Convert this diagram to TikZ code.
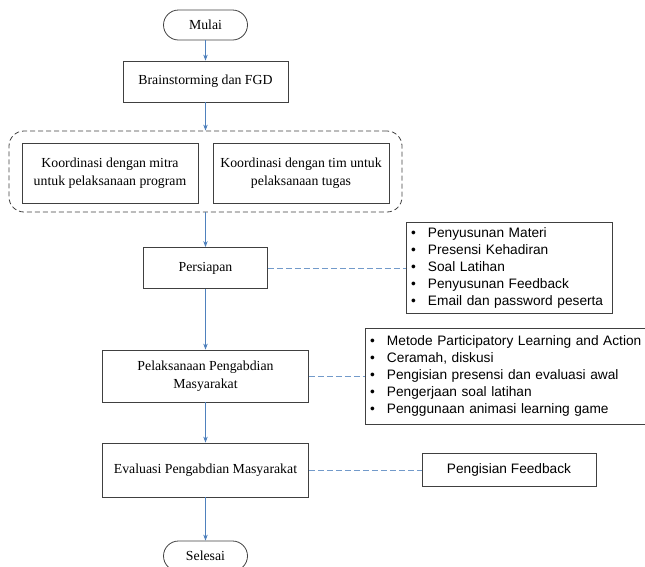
\documentclass[tikz,border=0pt]{standalone}
\usepackage{fontspec}
\setmainfont{Liberation Serif}
\setsansfont{Liberation Sans}
\usetikzlibrary{arrows.meta}
\definecolor{alurbiru}{RGB}{79, 129, 189}
\definecolor{garisabu}{RGB}{64, 64, 64}
\newcommand{\butir}[1]{\makebox[17pt][l]{\textbullet}#1}

\begin{document}
\begin{tikzpicture}[x=1pt, y=-1pt,
  kotak/.style={draw=garisabu, line width=0.8pt, align=center, inner sep=0pt,
    font=\fontsize{13.8}{18}\selectfont},
  ujung/.style={kotak, rounded corners=15pt, minimum width=84pt, minimum height=30pt},
  daftar/.style={draw=garisabu, line width=0.8pt, align=left, inner xsep=5pt, inner ysep=0pt,
    font=\sffamily\fontsize{13.7}{17}\selectfont},
  alur/.style={alurbiru, line width=0.8pt, -{Stealth[length=6pt, width=4.5pt]}},
  cabang/.style={alurbiru!80, line width=0.8pt, dash pattern=on 6pt off 3pt}]
  \useasboundingbox (0,0) rectangle (645,566);

  % Start and first step
  \node[ujung] (mulai) at (205.5,25) {Mulai};
  \node[kotak, minimum width=165pt, minimum height=41pt] (brainstorming) at (205.5,81.5)
    {Brainstorming dan FGD};

  % Coordination group
  \node[draw=garisabu, line width=0.8pt, dash pattern=on 5pt off 3pt, rounded corners=15pt,
    minimum width=393pt, minimum height=81pt] (koordinasi) at (205.5,171.5) {};
  \node[kotak, minimum width=176pt, minimum height=60pt] (mitra) at (110,173)
    {Koordinasi dengan mitra\\untuk pelaksanaan program};
  \node[kotak, minimum width=176pt, minimum height=60pt] (tim) at (301,173)
    {Koordinasi dengan tim untuk\\pelaksanaan tugas};

  % Preparation
  \node[kotak, minimum width=124pt, minimum height=41pt] (persiapan) at (205.5,268) {Persiapan};
  \node[daftar, text width=196pt, minimum height=91pt] (rincianpersiapan) at (509,268)
    {\butir{Penyusunan Materi}\\
     \butir{Presensi Kehadiran}\\
     \butir{Soal Latihan}\\
     \butir{Penyusunan Feedback}\\
     \butir{Email dan password peserta}};

  % Implementation
  \node[kotak, minimum width=206pt, minimum height=52pt] (pelaksanaan) at (205.5,376)
    {Pelaksanaan Pengabdian\\Masyarakat};
  \node[daftar, text width=300pt, minimum height=96pt] (rincianpelaksanaan) at (520,376)
    {\butir{Metode Participatory Learning and Action}\\
     \butir{Ceramah, diskusi}\\
     \butir{Pengisian presensi dan evaluasi awal}\\
     \butir{Pengerjaan soal latihan}\\
     \butir{Penggunaan animasi learning game}};

  % Evaluation and end
  \node[kotak, minimum width=206pt, minimum height=54pt] (evaluasi) at (205.5,470)
    {Evaluasi Pengabdian Masyarakat};
  \node[daftar, align=center, inner xsep=0pt, minimum width=174pt, minimum height=33pt] (feedback)
    at (509,470) {Pengisian Feedback};
  \node[ujung] (selesai) at (205.5,556) {Selesai};

  % Main flow
  \draw[alur] (mulai) -- (brainstorming);
  \draw[alur] (brainstorming) -- (koordinasi);
  \draw[alur] (koordinasi) -- (persiapan);
  \draw[alur] (persiapan) -- (pelaksanaan);
  \draw[alur] (pelaksanaan) -- (evaluasi);
  \draw[alur] (evaluasi) -- (selesai);

  % Dashed links to details
  \draw[cabang] (persiapan) -- (rincianpersiapan);
  \draw[cabang] (pelaksanaan) -- (rincianpelaksanaan);
  \draw[cabang] (evaluasi) -- (feedback);
\end{tikzpicture}
\end{document}
